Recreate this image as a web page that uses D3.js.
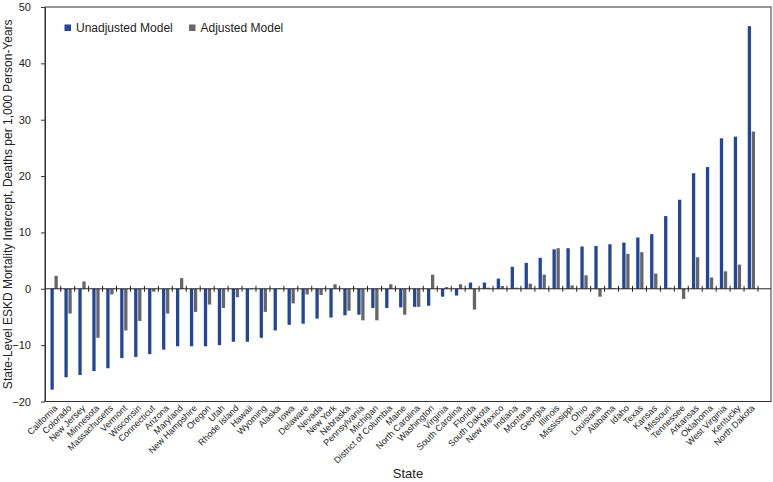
<!DOCTYPE html>
<html>
<head>
<meta charset="utf-8">
<script src="https://cdn.jsdelivr.net/npm/d3@7"></script>
<style>
  html, body { margin: 0; padding: 0; background: #fff; }
  svg { display: block; font-family: "Liberation Sans", Arial, Helvetica, sans-serif; }
</style>
</head>
<body>
<svg id="chart" width="773" height="482"></svg>
<script>
const states = ["California","Colorado","New Jersey","Minnesota","Massachusetts","Vermont","Wisconsin","Connecticut","Arizona","Maryland","New Hampshire","Oregon","Utah","Rhode Island","Hawaii","Wyoming","Alaska","Iowa","Delaware","Nevada","New York","Nebraska","Pennsylvania","Michigan","District of Columbia","Maine","North Carolina","Washington","Virginia","South Carolina","Florida","South Dakota","New Mexico","Indiana","Montana","Georgia","Illinois","Mississippi","Ohio","Louisiana","Alabama","Idaho","Texas","Kansas","Missouri","Tennessee","Arkansas","Oklahoma","West Virginia","Kentucky","North Dakota"];
const unadjusted = [-17.9,-15.7,-15.3,-14.6,-14.1,-12.3,-12.1,-11.6,-10.8,-10.2,-10.2,-10.2,-10.0,-9.4,-9.4,-8.7,-7.4,-6.4,-6.2,-5.3,-5.1,-4.7,-4.6,-3.4,-3.4,-3.3,-3.2,-3.0,-1.4,-1.2,1.1,1.1,1.8,3.9,4.6,5.5,7.0,7.2,7.5,7.6,7.9,8.2,9.1,9.7,12.9,15.8,20.5,21.6,26.7,27.0,46.6];
const adjusted = [2.3,-4.4,1.3,-8.7,-1.0,-7.4,-5.7,-0.5,-4.4,1.9,-4.1,-2.8,-3.4,-1.5,-0.1,-4.1,0.1,-2.6,-1.0,-1.1,0.8,-3.9,-5.6,-5.6,0.8,-4.6,-3.2,2.5,0.3,0.8,-3.7,0.2,0.5,0.2,0.9,2.5,7.2,0.6,2.4,-1.4,0.1,6.2,6.5,2.7,0.2,-1.8,5.6,2.0,3.1,4.3,27.9];
const yTicks = [-20,-10,0,10,20,30,40,50];
const seriesNames = ["Unadjusted Model","Adjusted Model"];
const seriesColors = ["#21469a","#666666"];

const svg = d3.select("#chart");
const plot = {left: 45, right: 771, top: 7, bottom: 401.5};

const x = d3.scaleBand().domain(states).range([46.8, 758]).padding(0);
const y = d3.scaleLinear().domain([-20, 50]).range([plot.bottom, plot.top]);

// Frame
svg.append("rect")
  .attr("x", plot.left).attr("y", plot.top)
  .attr("width", plot.right - plot.left).attr("height", plot.bottom - plot.top)
  .attr("fill", "none").attr("stroke", "#333").attr("stroke-width", 1);

// Bars
const bw = 3.3, gap = 0.7;
const g = svg.append("g");
states.forEach((s, i) => {
  const c = x(s) + x.bandwidth() / 2;
  [unadjusted[i], adjusted[i]].forEach((v, k) => {
    const x0 = k === 0 ? c - bw : c + gap;
    g.append("rect")
      .attr("x", x0)
      .attr("y", y(Math.max(0, v)))
      .attr("width", bw)
      .attr("height", Math.abs(y(v) - y(0)))
      .attr("fill", seriesColors[k]);
  });
});

// Zero line with category ticks
svg.append("line")
  .attr("x1", plot.left).attr("x2", plot.right)
  .attr("y1", y(0)).attr("y2", y(0))
  .attr("stroke", "#222").attr("stroke-width", 1);
const bounds = states.slice(1).map(s => x(s)).concat([x.range()[1]]);
svg.append("g").selectAll("line").data(bounds).join("line")
  .attr("x1", d => d).attr("x2", d => d)
  .attr("y1", y(0) - 3).attr("y2", y(0) + 3)
  .attr("stroke", "#222").attr("stroke-width", 1);

// Y axis
const yAxis = svg.append("g")
  .attr("transform", `translate(${plot.left},0)`)
  .call(d3.axisLeft(y).tickValues(yTicks).tickSize(4).tickPadding(10).tickSizeOuter(0));
yAxis.select(".domain").attr("stroke", "#333");
yAxis.selectAll(".tick line").attr("stroke", "#333");
yAxis.selectAll(".tick text").attr("font-size", 11).attr("fill", "#222")
  .attr("font-family", "Liberation Sans, Arial, sans-serif");

// X labels
svg.append("g").selectAll("text").data(states).join("text")
  .attr("transform", s => `translate(${x(s) + x.bandwidth() / 2 + 2},${plot.bottom + 5}) rotate(-45)`)
  .attr("text-anchor", "end")
  .attr("dy", "0.35em")
  .attr("font-size", 9)
  .attr("fill", "#222")
  .text(s => s);

// Axis titles
svg.append("text")
  .attr("x", (plot.left + plot.right) / 2)
  .attr("y", 478)
  .attr("text-anchor", "middle")
  .attr("font-size", 13)
  .attr("fill", "#222")
  .text("State");

svg.append("text")
  .attr("transform", `translate(11.5,${(plot.top + plot.bottom) / 2}) rotate(-90)`)
  .attr("text-anchor", "middle")
  .attr("font-size", 12)
  .attr("fill", "#222")
  .text("State-Level ESKD Mortality Intercept, Deaths per 1,000 Person-Years");

// Legend
const legendX = [64.5, 189];
seriesNames.forEach((n, k) => {
  svg.append("rect")
    .attr("x", legendX[k]).attr("y", 24.5)
    .attr("width", 6.5).attr("height", 6.5)
    .attr("fill", seriesColors[k]);
  svg.append("text")
    .attr("x", legendX[k] + 11.5).attr("y", 32)
    .attr("font-size", 12)
    .attr("fill", "#222")
    .text(n);
});
</script>
</body>
</html>
